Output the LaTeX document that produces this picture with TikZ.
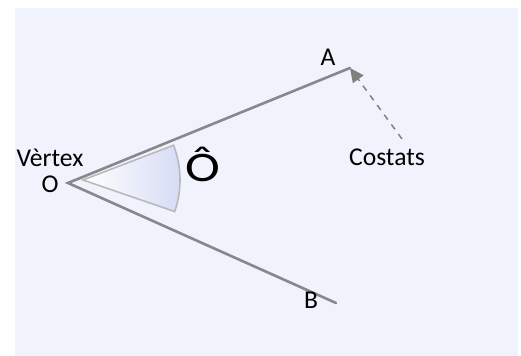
\documentclass[tikz,border=0pt]{standalone}
\usepackage{fontspec}
\setmainfont{Carlito}
\usetikzlibrary{arrows.meta}
\definecolor{bglav}{RGB}{240,243,252}
\definecolor{sidegray}{RGB}{135,135,140}
\definecolor{sectorblue}{RGB}{214,219,245}
\begin{document}
\begin{tikzpicture}[x=0.5pt,y=0.5pt,
	lbl/.style={ inner sep=0pt, font=\fontsize{12.8}{14}\selectfont },
	side/.style={ sidegray, line width=1.3pt, line cap=round },
	pointer/.style={ gray, dashed, line width=0.75pt, -{Triangle[length=7pt,width=6.5pt]} }
]
\useasboundingbox (0,0) rectangle (521,356);
\fill[bglav] (15,0) rectangle (518,348);

\coordinate (O) at (68,173);
\coordinate (A) at (350,288);
\coordinate (B) at (336,53);
\coordinate (tail) at (402,217);

% angle sector
\shade[left color=white, right color=sectorblue, draw=gray!55, line width=0.8pt]
  (83,176) -- ++(21:97) arc (21:-19:97) -- cycle;

% sides
\draw[side] (A) -- (O) -- (B);

\node at (50,198) (vtx) [lbl] {Vèrtex};
\node at (50,172) (olbl) [lbl] {O};
\node at (328,299) (albl) [lbl] {A};
\node at (311,56) (blbl) [lbl] {B};
\node at (387,199) (cost) [lbl] {Costats};
\node at (203,174) (ang) [inner sep=0pt, anchor=base, font=\fontsize{21}{22}\selectfont] {\scalebox{1.25}[1]{Ô}};

\draw[pointer] (tail) -- (A);

\end{tikzpicture}
\end{document}
